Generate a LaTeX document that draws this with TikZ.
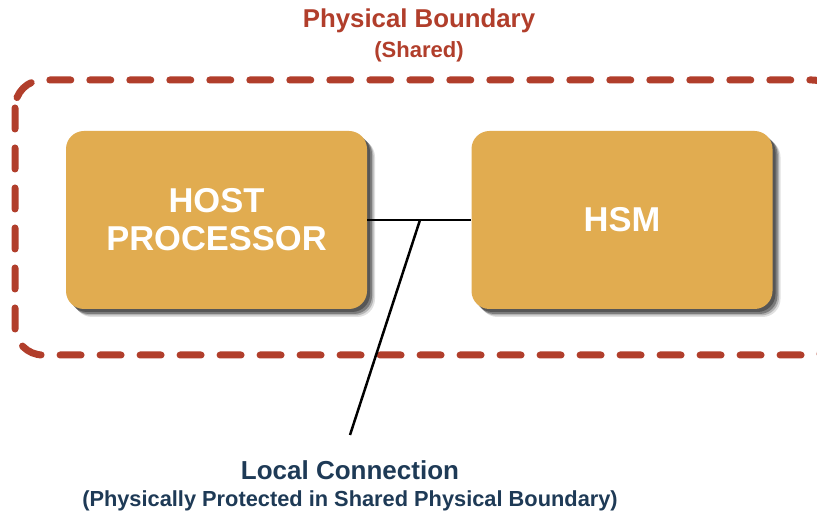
\documentclass[tikz,border=0pt]{standalone}
\usepackage{fontspec}
\setmainfont{Liberation Sans}
\usetikzlibrary{shadows}
\definecolor{bred}{HTML}{B13E2B}
\definecolor{boxfill}{HTML}{E1AC50}
\definecolor{navy}{HTML}{1E3A56}
\tikzset{
  unitbox/.style={rounded corners=18pt, fill=boxfill, minimum width=301pt, minimum height=178pt,
    text=white, font=\bfseries\fontsize{34.5}{38}\selectfont, align=center, inner sep=0pt,
    drop shadow={shadow xshift=8pt, shadow yshift=-8pt, fill=black, opacity=0.12},
    drop shadow={shadow xshift=6.5pt, shadow yshift=-6.5pt, fill=black, opacity=0.2},
    drop shadow={shadow xshift=5pt, shadow yshift=-5pt, fill=black, opacity=0.3},
    drop shadow={shadow xshift=3pt, shadow yshift=-3pt, fill=black, opacity=0.3}},
  boundary/.style={draw=bred, line width=7pt, line cap=round, dash pattern=on 21pt off 19pt, rounded corners=28pt},
  wire/.style={draw=black, line width=2.5pt},
  redtitle/.style={text=bred, font=\bfseries\fontsize{25.8}{29}\selectfont},
  redsub/.style={text=bred, font=\bfseries\fontsize{22}{25}\selectfont},
  navytitle/.style={text=navy, font=\bfseries\fontsize{26}{29}\selectfont},
  navysub/.style={text=navy, font=\bfseries\fontsize{21.8}{25}\selectfont}
}
\begin{document}
\begin{tikzpicture}[x=1pt,y=-1pt]
\useasboundingbox (0,0) rectangle (817,518);
\fill[white] (0,0) rectangle (817,518);
\draw[boundary] (15,80) rectangle (840,355);
\node[redtitle] (title) at (419,21) {Physical Boundary};
\node[redsub] (shared) at (419,52) {(Shared)};
\node[unitbox] (host) at (216.5,220) {HOST\\PROCESSOR};
\node[unitbox] (hsm) at (622,220) {HSM};
\draw[wire] (host.east) -- (hsm.west);
\coordinate (j) at (420,220);
\coordinate (lend) at (350,435);
\draw[wire] (j) -- (lend);
\node[navytitle] (lc) at (350,470) {Local Connection};
\node[navysub] (lc2) at (350,501) {(Physically Protected in Shared Physical Boundary)};
\end{tikzpicture}
\end{document}
